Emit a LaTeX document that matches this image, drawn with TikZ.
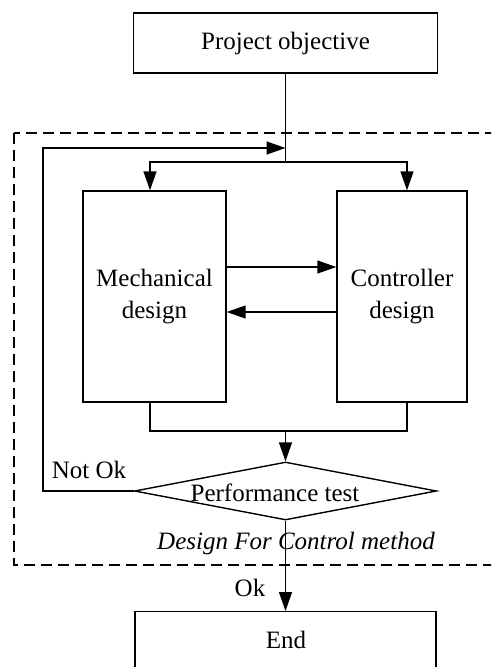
\documentclass[tikz,border=0pt]{standalone}
\usepackage{fontspec}
\setmainfont{Liberation Serif}
\usetikzlibrary{arrows.meta,shapes.geometric,calc}
\begin{document}
\begin{tikzpicture}[x=1pt,y=-1pt,
  box/.style={draw,line width=1.4pt,inner sep=0pt,font=\fontsize{25}{32}\selectfont,align=center},
  conn/.style={line width=1.4pt},
  arr/.style={conn,-{Triangle[length=19pt,width=13pt]}},
  lbl/.style={font=\fontsize{25}{29}\selectfont,inner sep=0pt}]
\useasboundingbox (0,0) rectangle (491,667);
\clip (0,0) rectangle (491,667);
\fill[white] (0,0) rectangle (491,667);
% dashed frame
\draw[line width=2.4pt,dash pattern=on 11pt off 6pt] (14,133) rectangle (520,565);
% nodes
\node[box,minimum width=304pt,minimum height=60pt] (obj) at (285.5,43) {Project objective};
\node[box,minimum width=143pt,minimum height=211pt] (mech) at (154.5,296.5) {Mechanical\\design};
\node[box,minimum width=130pt,minimum height=211pt] (ctrl) at (402,296.5) {Controller\\design};
\node[draw,diamond,line width=1.4pt,minimum width=302pt,minimum height=58pt,inner sep=0pt] (test) at (285.5,491) {};
\node[lbl] (testtxt) at (275,493) {Performance test};
\node[box,minimum width=301pt,minimum height=78pt,anchor=north] (end) at (285.5,611) {};
\node[lbl] (endtxt) at (286,640) {End};
% coordinates
\coordinate (join) at (285.5,148);
\coordinate (split) at (285.5,162);
\coordinate (merge) at (285.5,431);
% connectors
\draw[conn] (obj.south) -- (split);
\draw[arr] (split) -| ([xshift=-4.5pt]mech.north);
\draw[arr] (split) -| ([xshift=5pt]ctrl.north);
\draw[arr] (mech.east |- 0,267) -- (ctrl.west |- 0,267);
\draw[arr] (ctrl.west |- 0,312) -- (mech.east |- 0,312);
\draw[conn] ([xshift=-4.5pt]mech.south) |- (merge) -| ([xshift=5pt]ctrl.south);
\draw[arr] (merge) -- (test.north);
\draw[arr] (test.west) -- ++(-91,0) |- (join);
\draw[arr] (test.south) -- (end.north);
% labels
\node[lbl] (notok) at (89,470) {Not Ok};
\node[lbl,font=\fontsize{25}{29}\selectfont\itshape] (dfc) at (296,543) {Design For Control method};
\node[lbl] (ok) at (250,588) {Ok};
\end{tikzpicture}
\end{document}
